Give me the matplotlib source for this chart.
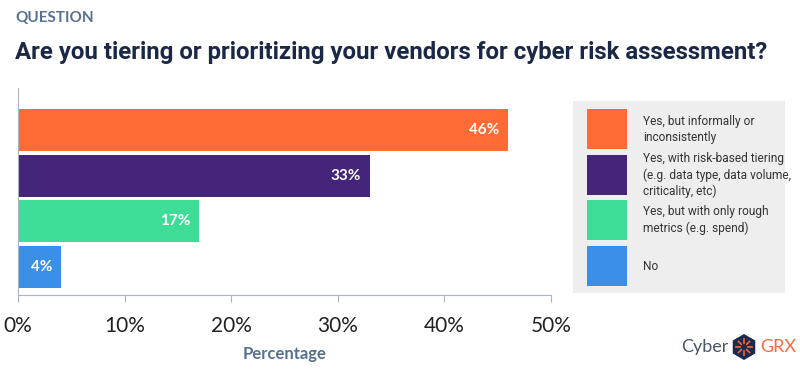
import numpy as np
import matplotlib.pyplot as plt
from matplotlib.patches import Rectangle, RegularPolygon

plt.rcParams['font.family'] = ['Lato', 'DejaVu Sans']

categories = ['Yes, but informally or\ninconsistently',
              'Yes, with risk-based tiering\n(e.g. data type, data volume,\ncriticality, etc)',
              'Yes, but with only rough\nmetrics (e.g. spend)',
              'No']
values = [46, 33, 17, 4]
colors = ['#FF6A35', '#45257A', '#3DDC97', '#3A8FE6']

fig = plt.figure(figsize=(8, 3.72), dpi=100)

fig.text(0.019, 0.952, 'QUESTION', fontsize=11, fontweight='bold', color='#56708F', va='center')
fig.text(0.019, 0.858, 'Are you tiering or prioritizing your vendors for cyber risk assessment?',
         fontsize=17.3, fontweight='bold', color='#1B2845', va='center', family='Roboto')

ax = fig.add_axes([0.0225, 0.207, 0.666, 0.556])
ypos = np.arange(len(values))[::-1]
ax.barh(ypos, values, height=0.92, color=colors)
for y, v in zip(ypos, values):
    ax.text(v - 0.8, y, f'{v}%', ha='right', va='center', color='white',
            fontsize=11, fontweight='bold')

ax.set_xlim(0, 50)
ax.set_ylim(-0.613, 3.92)
ax.set_xticks(np.arange(0, 51, 10))
ax.set_xticklabels([f'{t}%' for t in range(0, 51, 10)], fontsize=15, color='#222222')
ax.set_yticks([])
for s in ['top', 'right']:
    ax.spines[s].set_visible(False)
for s in ['left', 'bottom']:
    ax.spines[s].set_color('#A9B4C2')
ax.tick_params(axis='x', length=5, color='#A9B4C2', pad=10)
ax.set_xlabel('Percentage', fontsize=12, fontweight='bold', color='#56708F', labelpad=7)

# legend panel
fig.add_artist(Rectangle((573 / 800, 1 - 293 / 372), 212 / 800, 192 / 372,
                         transform=fig.transFigure, facecolor='#EEEEEE', edgecolor='none'))
sw_top = [109, 155, 200, 246]
for top, c, lab in zip(sw_top, colors, categories):
    fig.add_artist(Rectangle((587 / 800, 1 - (top + 40) / 372), 40 / 800, 40 / 372,
                             transform=fig.transFigure, facecolor=c, edgecolor='none'))
    fig.text(643 / 800, 1 - (top + 20) / 372, lab, fontsize=8.6, color='#333333',
             va='center', ha='left', family='Roboto', linespacing=1.3)

# logo
fig.text(728 / 800, 1 - 347 / 372, 'Cyber', fontsize=13, color='#4A5568', ha='right', va='center')
fig.text(760 / 800, 1 - 347 / 372, 'GRX', fontsize=13, color='#F26B3A', ha='left', va='center')
lax = fig.add_axes([731 / 800, 1 - 360 / 372, 26 / 800, 26 / 372])
lax.set_xlim(-1, 1)
lax.set_ylim(-1, 1)
lax.set_aspect('equal')
lax.axis('off')
lax.add_patch(RegularPolygon((0, 0), 6, radius=1.0, orientation=0, facecolor='#1B2A4E'))
for a in np.arange(0, 360, 45):
    r = np.radians(a)
    lax.plot([0.3 * np.cos(r), 0.6 * np.cos(r)], [0.3 * np.sin(r), 0.6 * np.sin(r)],
             color='#F26B3A', lw=1.2)

fig.savefig('out.png', dpi=100)
